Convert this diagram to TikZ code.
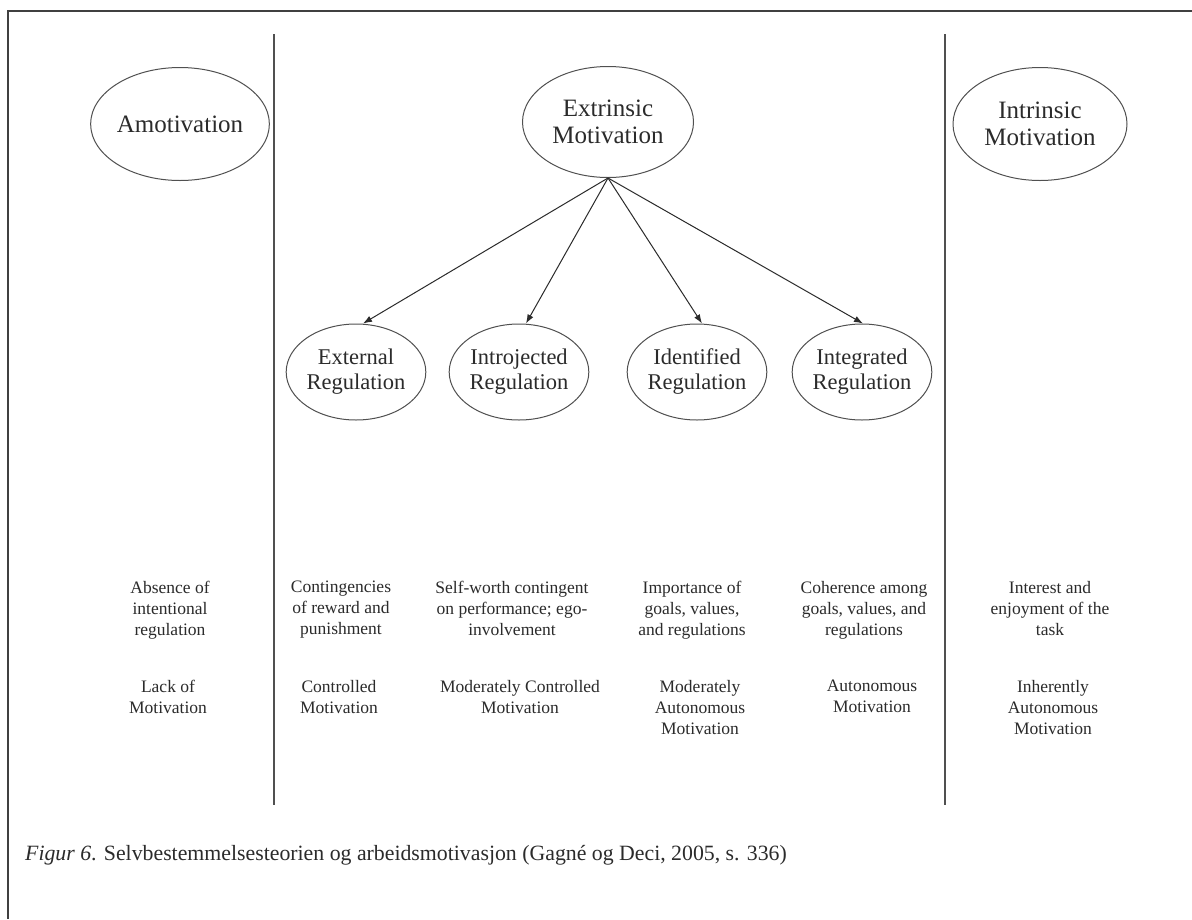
\documentclass[tikz,border=0pt]{standalone}
\usepackage{fontspec}
\setmainfont{Liberation Serif}
\usetikzlibrary{shapes.geometric,arrows.meta}
\definecolor{ink}{HTML}{2B2B2B}
\definecolor{rule}{HTML}{505050}
\begin{document}
\begin{tikzpicture}[x=1pt,y=-1pt,
  oval/.style={ellipse, draw=rule, line width=1pt, inner sep=0pt, align=center, text=ink},
  bigoval/.style={oval, minimum width=174pt, minimum height=113pt,
    font=\fontsize{25}{27}\selectfont},
  regoval/.style={oval, minimum width=132pt, minimum height=96pt,
    font=\fontsize{22.5}{25}\selectfont},
  note/.style={align=center, text=ink, inner sep=0pt, anchor=north,
    font=\fontsize{17.5}{21}\selectfont},
  divider/.style={draw=rule, line width=2.2pt},
  frameline/.style={draw=ink!90, line width=1.5pt},
  link/.style={draw=ink, line width=1pt, -{Latex[length=9pt,width=6.5pt]}}]

% canvas
\fill[white] (0,0) rectangle (1192,919);
\useasboundingbox (0,0) rectangle (1192,919);

% open frame (top and left edges)
\draw[frameline] (1192,11) -- (8,11) -- (8,919);

% column dividers
\draw[divider] (274,34) -- (274,805);
\draw[divider] (945,34) -- (945,805);

% top row
\node[bigoval] (amot) at (180,124) {Amotivation};
\node[bigoval, minimum width=171pt, minimum height=111pt] (extr) at (608,122) {Extrinsic\\Motivation};
\node[bigoval] (intr) at (1040,124) {Intrinsic\\Motivation};

% regulation styles
\node[regoval] (ext) at (356,372) {External\\Regulation};
\node[regoval] (intro) at (519,372) {Introjected\\Regulation};
\node[regoval] (ident) at (697,372) {Identified\\Regulation};
\node[regoval] (integ) at (862,372) {Integrated\\Regulation};

% arrows from extrinsic motivation
\draw[link] (extr.south) -- ([xshift=7pt]ext.north);
\draw[link] (extr.south) -- ([xshift=7pt]intro.north);
\draw[link] (extr.south) -- ([xshift=5pt]ident.north);
\draw[link] (extr.south) -- ([xshift=1pt]integ.north);

% regulatory processes
\node[note] (p1) at (170,581) {Absence of\\intentional\\regulation};
\node[note] (p2) at (341,581) {Contingencies\\of reward and\\punishment};
\node[note] (p3) at (512,581) {Self-worth contingent\\on performance; ego-\\involvement};
\node[note] (p4) at (692,581) {Importance of\\goals, values,\\and regulations};
\node[note] (p5) at (864,581) {Coherence among\\goals, values, and\\regulations};
\node[note] (p6) at (1050,581) {Interest and\\enjoyment of the\\task};

% perceived locus of causality
\node[note] (c1) at (168,680) {Lack of\\Motivation};
\node[note] (c2) at (339,680) {Controlled\\Motivation};
\node[note] (c3) at (520,680) {Moderately Controlled\\Motivation};
\node[note] (c4) at (700,680) {Moderately\\Autonomous\\Motivation};
\node[note] (c5) at (872,680) {Autonomous\\Motivation};
\node[note] (c6) at (1053,680) {Inherently\\Autonomous\\Motivation};

% caption
\node[anchor=west, inner sep=0pt, text=ink, font=\fontsize{21.8}{24}\selectfont] (cap) at (25,855)
  {\textit{Figur 6}. Selvbestemmelsesteorien og arbeidsmotivasjon (Gagné og Deci, 2005, s. 336)};
\end{tikzpicture}
\end{document}
